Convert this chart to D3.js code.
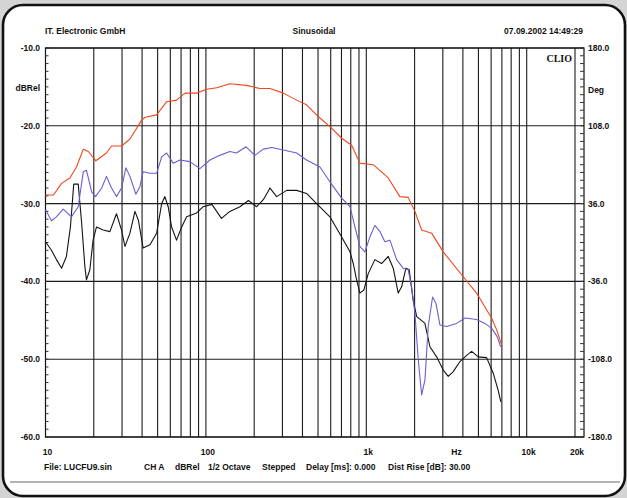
<!DOCTYPE html>
<meta charset="utf-8">
<script src="https://d3js.org/d3.v7.min.js"></script>
<style>
body { margin: 0; background: #d4d4d4; }
text { font-family: "Liberation Sans", Arial, sans-serif; font-weight: bold; font-size: 8.5px; fill: #111; }
.grid line { stroke: #1c1c1c; stroke-width: 1.1; }
.curve { fill: none; stroke-width: 1.1; stroke-linejoin: round; }
</style>
<body>
<script>

// frequency response curves, [Hz, dBRel]
var redCurve = [[10,-28.9],[11.2,-28.9],[12.6,-27.4],[14.2,-26.7],[15.6,-25.3],[17.2,-23.0],[18.5,-23.3],[20.6,-24.5],[24.0,-23.5],[25.8,-22.6],[29.8,-22.6],[33.6,-21.7],[39.7,-19.3],[41.7,-18.9],[49.3,-18.6],[56.9,-16.9],[65.6,-16.7],[74,-15.8],[87.5,-15.8],[101,-15.3],[117,-15.1],[141,-14.6],[179,-14.8],[217,-15.2],[251,-15.2],[304,-15.8],[368,-16.7],[424,-17.3],[490,-18.6],[514,-19.0],[593,-20.1],[702,-21.6],[810,-22.5],[912,-24.8],[1104,-25.0],[1370,-26.7],[1619,-29.1],[1824,-29.2],[2009,-31.0],[2213,-33.4],[2553,-33.8],[3017,-36.2],[4019,-39.4],[4873,-41.5],[5487,-43.3],[6039,-44.7],[6491,-46.2],[6982,-48.2]];

var blueCurve = [[10,-30.8],[10.9,-32.2],[11.7,-31.7],[12.9,-30.7],[14.5,-31.7],[16.0,-30.4],[17.2,-25.9],[18.0,-25.7],[19.4,-28.5],[20.5,-29.1],[22.4,-28.0],[24.0,-26.5],[25.8,-28.0],[27.7,-29.1],[29.8,-28.0],[31.7,-25.4],[33.6,-26.5],[36.6,-28.8],[38.8,-27.8],[40.6,-25.9],[44.8,-26.1],[49.3,-26.1],[53.0,-24.0],[56.9,-23.5],[62.5,-24.8],[68.8,-24.4],[79.5,-24.6],[91.8,-25.5],[106,-24.4],[122,-23.8],[141,-23.3],[155,-23.5],[178,-22.7],[202,-23.8],[228,-23.0],[257,-22.8],[304,-23.1],[368,-23.5],[424,-24.4],[514,-25.3],[593,-27.2],[702,-29.3],[791,-30.4],[849,-33.0],[912,-35.5],[980,-36.2],[1052,-34.3],[1131,-32.8],[1216,-33.6],[1306,-34.9],[1403,-34.7],[1545,-37.2],[1698,-38.3],[1824,-38.5],[1915,-40.7],[2009,-44.1],[2109,-50.1],[2213,-54.6],[2319,-52.7],[2432,-45.8],[2589,-42.0],[2716,-42.8],[2877,-45.6],[3168,-45.8],[3657,-45.4],[4121,-44.7],[4873,-44.9],[5487,-45.4],[6039,-46.0],[6546,-47.1],[6873,-48.4]];

var blackCurve = [[10,-34.9],[10.9,-36.0],[11.7,-37.2],[12.6,-38.3],[13.5,-36.8],[14.3,-33.0],[15.0,-27.5],[16.0,-27.5],[16.8,-32.5],[17.6,-38.1],[18.0,-39.8],[18.9,-38.5],[19.8,-34.7],[20.8,-33.0],[22.9,-33.4],[25.2,-33.6],[27.7,-31.3],[29.8,-33.4],[31.3,-35.5],[33.6,-33.8],[36.1,-31.0],[37.9,-32.1],[40.6,-35.7],[44.8,-35.3],[49.3,-33.8],[53.0,-30.0],[55.5,-29.1],[58.2,-30.4],[61.1,-33.0],[65.6,-34.7],[70.6,-33.0],[75.8,-31.7],[87.5,-31.2],[96.2,-30.4],[109,-30.1],[125,-31.9],[141,-31.0],[163,-30.4],[184,-29.6],[207,-30.4],[228,-29.5],[251,-28.0],[276,-29.1],[319,-28.3],[368,-28.3],[424,-28.7],[490,-30.0],[593,-31.7],[702,-34.3],[791,-36.2],[829,-37.7],[870,-39.8],[912,-41.5],[966,-41.1],[1028,-39.0],[1131,-37.2],[1245,-37.7],[1370,-36.8],[1472,-38.3],[1581,-41.5],[1660,-40.7],[1766,-38.3],[1850,-38.5],[1959,-42.4],[2059,-44.5],[2319,-45.4],[2493,-48.4],[2743,-49.7],[3017,-51.4],[3243,-52.2],[3484,-51.6],[3837,-50.3],[4221,-49.5],[4536,-49.0],[4990,-49.7],[5623,-49.8],[6183,-51.8],[6640,-54.0],[6902,-55.5]];

var dbTicks = [-10, -20, -30, -40, -50, -60];
var degTicks = [180, 108, 36, -36, -108, -180];
var freqLabels = [[10, "10"], [100, "100"], [1000, "1k"], [3550, "Hz"], [10000, "10k"], [20000, "20k"]];
var footerItems = ["File: LUCFU9.sin", "CH A", "dBRel", "1/2 Octave", "Stepped", "Delay [ms]: 0.000", "Dist Rise [dB]: 30.00"];
var footerX = [44, 144, 175, 208, 262, 306, 388];

var W = 627, H = 498;
var plotL = 45.5, plotR = 584, plotT = 48, plotB = 437;

var svg = d3.select("body").append("svg")
    .attr("width", W)
    .attr("height", H);

// card with rounded frame
svg.append("rect")
    .attr("x", 3).attr("y", 5)
    .attr("width", 622).attr("height", 491)
    .attr("rx", 20).attr("ry", 20)
    .attr("fill", "#fff")
    .attr("stroke", "#111")
    .attr("stroke-width", 2.6);

var x = d3.scaleLog().domain([10, 20000]).range([plotL, 575]);
var y = d3.scaleLinear().domain([-60, -10]).range([plotB, plotT]);
var yDeg = d3.scaleLinear().domain([-180, 180]).range([plotB, plotT]);

// vertical grid lines 20, 30 ... 20k
var gridFreqs = [];
[10, 100, 1000].forEach(function(dec) {
    for (var k = 1; k <= 9; k++) if (dec * k > 10) gridFreqs.push(dec * k);
});
gridFreqs.push(10000, 20000);

var grid = svg.append("g").attr("class", "grid");
grid.selectAll(".v")
    .data(gridFreqs)
    .enter().append("line")
    .attr("class", "v")
    .attr("x1", function(d) { return x(d); })
    .attr("x2", function(d) { return x(d); })
    .attr("y1", plotT).attr("y2", plotB);

grid.selectAll(".h")
    .data(dbTicks)
    .enter().append("line")
    .attr("class", "h")
    .attr("x1", plotL).attr("x2", plotR)
    .attr("y1", function(d) { return y(d); })
    .attr("y2", function(d) { return y(d); });

// plot frame
svg.append("rect")
    .attr("x", plotL).attr("y", plotT)
    .attr("width", plotR - plotL).attr("height", plotB - plotT)
    .attr("fill", "none")
    .attr("stroke", "#111")
    .attr("stroke-width", 1.2);

// minor ticks, left every 1 dB, right every 7.2 deg
svg.append("g").selectAll("line")
    .data(d3.range(-60, -9, 1))
    .enter().append("line")
    .attr("x1", plotL).attr("x2", plotL + 3)
    .attr("y1", function(d) { return y(d); })
    .attr("y2", function(d) { return y(d); })
    .attr("stroke", "#333");

svg.append("g").selectAll("line")
    .data(d3.range(0, 51).map(function(i) { return -180 + i * 7.2; }))
    .enter().append("line")
    .attr("x1", plotR - 4).attr("x2", plotR)
    .attr("y1", function(d) { return yDeg(d); })
    .attr("y2", function(d) { return yDeg(d); })
    .attr("stroke", "#333");

// curves
var line = d3.line()
    .x(function(d) { return x(d[0]); })
    .y(function(d) { return y(d[1]); });

[[blackCurve, "#141414"], [blueCurve, "#6a5fd0"], [redCurve, "#f2461c"]].forEach(function(c) {
    svg.append("path")
        .datum(c[0])
        .attr("class", "curve")
        .attr("stroke", c[1])
        .attr("d", line);
});

// axis labels
svg.append("g").selectAll("text")
    .data(dbTicks)
    .enter().append("text")
    .attr("x", 40)
    .attr("y", function(d) { return y(d) + 3; })
    .attr("text-anchor", "end")
    .text(function(d) { return d.toFixed(1); });

svg.append("g").selectAll("text")
    .data(degTicks)
    .enter().append("text")
    .attr("x", 588)
    .attr("y", function(d) { return yDeg(d) + 3; })
    .text(function(d) { return d.toFixed(1); });

svg.append("g").selectAll("text")
    .data(freqLabels)
    .enter().append("text")
    .attr("x", function(d) { return x(d[0]) + 2; })
    .attr("y", 455)
    .attr("text-anchor", "middle")
    .text(function(d) { return d[1]; });

svg.append("text").attr("x", 40).attr("y", 91).attr("text-anchor", "end").text("dBRel");
svg.append("text").attr("x", 588).attr("y", 93).text("Deg");

// header
svg.append("text").attr("x", 45).attr("y", 34).text("IT. Electronic GmbH");
svg.append("text").attr("x", 314).attr("y", 34).attr("text-anchor", "middle").text("Sinusoidal");
svg.append("text").attr("x", 583).attr("y", 34).attr("text-anchor", "end").text("07.09.2002 14:49:29");

svg.append("text")
    .attr("x", 572).attr("y", 62)
    .attr("text-anchor", "end")
    .style("font-family", "'Liberation Serif', serif")
    .style("font-size", "10px")
    .text("CLIO");

// footer
svg.append("g").selectAll("text")
    .data(footerItems)
    .enter().append("text")
    .attr("x", function(d, i) { return footerX[i]; })
    .attr("y", 470)
    .text(function(d) { return d; });

svg.append("line")
    .attr("x1", 10).attr("x2", 620)
    .attr("y1", 482).attr("y2", 482)
    .attr("stroke", "#666")
    .attr("stroke-width", 1);

</script>
</body>
</html>
